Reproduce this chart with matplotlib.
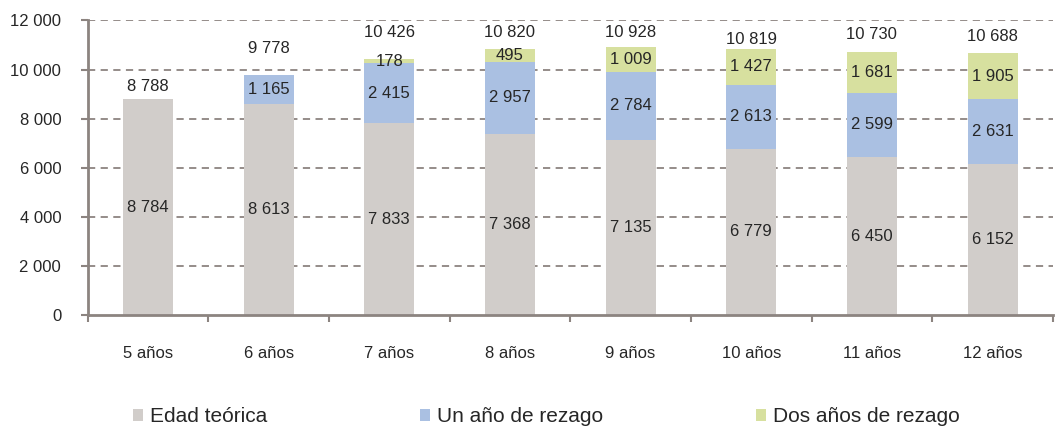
import matplotlib
matplotlib.use("Agg")
import matplotlib.pyplot as plt
import numpy as np
from matplotlib.patches import Patch

plt.rcParams['font.family'] = ['Liberation Sans', 'DejaVu Sans']

categories = ["5 años", "6 años", "7 años", "8 años", "9 años", "10 años", "11 años", "12 años"]
edad_teorica = [8784, 8613, 7833, 7368, 7135, 6779, 6450, 6152]
un_anio = [0, 1165, 2415, 2957, 2784, 2613, 2599, 2631]
dos_anios = [0, 0, 178, 495, 1009, 1427, 1681, 1905]
totales = [8788, 9778, 10426, 10820, 10928, 10819, 10730, 10688]
series_names = ["Edad teórica", "Un año de rezago", "Dos años de rezago"]
yticks = [0, 2000, 4000, 6000, 8000, 10000, 12000]

# layout: vertical offset (points) of the total labels above each bar
total_label_offsets = [9, 19, 19, 12, 10, 7.5, 12, 12]

colors = ["#D1CDCA", "#AAC0E2", "#D7E09F"]
txt_color = '#262626'
axis_color = '#8C8480'

def fmt(v):
    return f"{v:,}".replace(",", " ")

fig = plt.figure(figsize=(10.55, 4.26), dpi=100)
ax = fig.add_axes([0.083, 0.26, 0.915, 0.692])

x = np.arange(len(categories))
w = 0.415
ax.bar(x, edad_teorica, w, color=colors[0], zorder=2)
ax.bar(x, un_anio, w, bottom=edad_teorica, color=colors[1], zorder=2)
bottom3 = np.array(edad_teorica) + np.array(un_anio)
ax.bar(x, dos_anios, w, bottom=bottom3, color=colors[2], zorder=2)

fs = 12
for i in range(len(categories)):
    ax.text(x[i], edad_teorica[i] / 2, fmt(edad_teorica[i]), ha='center', va='center',
            fontsize=fs, color=txt_color, zorder=3)
    if un_anio[i] > 0:
        ax.text(x[i], edad_teorica[i] + un_anio[i] / 2, fmt(un_anio[i]), ha='center', va='center',
                fontsize=fs, color=txt_color, zorder=3)
    if dos_anios[i] > 0:
        ax.text(x[i], bottom3[i] + dos_anios[i] / 2, fmt(dos_anios[i]), ha='center', va='center',
                fontsize=fs, color=txt_color, zorder=3)
    ax.annotate(fmt(totales[i]), (x[i], totales[i]), xytext=(0, total_label_offsets[i]),
                textcoords='offset points', ha='center', va='center', fontsize=fs,
                color=txt_color, zorder=3)

ax.set_xlim(-0.5, len(categories) - 0.5)
ax.set_ylim(0, 12000)
ax.set_yticks(yticks)
ax.set_yticklabels([fmt(v) for v in yticks], fontsize=fs, color=txt_color)
ax.set_xticks(x)
ax.set_xticklabels(categories, fontsize=fs, color=txt_color)
ax.tick_params(axis='x', length=0, pad=22)
ax.set_xticks(np.arange(len(categories) + 1) - 0.5, minor=True)
ax.tick_params(axis='x', which='minor', length=5, color=axis_color, width=1.5)
ax.tick_params(axis='y', length=5, color=axis_color, width=1.5, pad=14)

for v in yticks[1:]:
    ax.axhline(v, color=axis_color, linestyle=(0, (4, 3)), linewidth=1.3, zorder=1)

for s in ['top', 'right']:
    ax.spines[s].set_visible(False)
for s in ['left', 'bottom']:
    ax.spines[s].set_color(axis_color)
    ax.spines[s].set_linewidth(2)

handles = [Patch(facecolor=c, edgecolor='none') for c in colors]
leg = fig.legend(handles, series_names, loc='center left',
                 bbox_to_anchor=(133 / 1055, 1 - 417 / 426), ncol=3,
                 frameon=False, fontsize=15, handlelength=0.5, handleheight=0.5,
                 handletextpad=0.3, columnspacing=7.35, borderaxespad=0, borderpad=0)
for t in leg.get_texts():
    t.set_color(txt_color)

fig.savefig("out.png", dpi=100)
